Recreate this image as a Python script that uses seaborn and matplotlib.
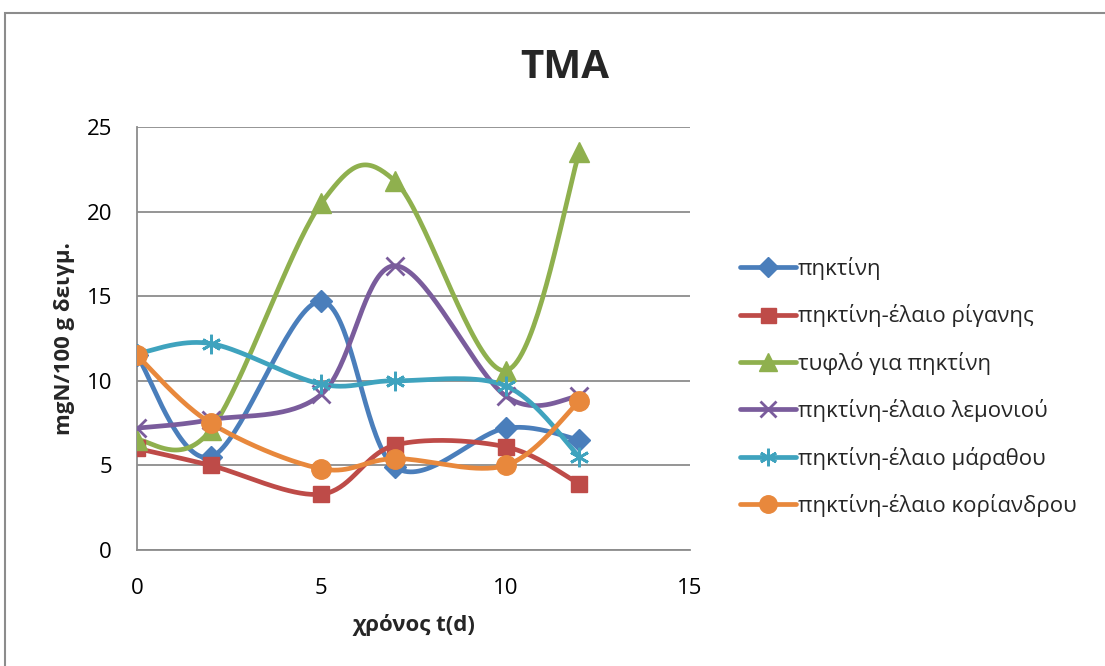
import numpy as np
import pandas as pd
import matplotlib
matplotlib.use("Agg")
import matplotlib.pyplot as plt
import seaborn as sns
from matplotlib.lines import Line2D
from matplotlib.patches import Rectangle

# ---- data ----
days = [0, 2, 5, 7, 10, 12]
series_names = ["πηκτίνη", "πηκτίνη-έλαιο ρίγανης", "τυφλό για πηκτίνη",
                "πηκτίνη-έλαιο λεμονιού", "πηκτίνη-έλαιο μάραθου",
                "πηκτίνη-έλαιο κορίανδρου"]
pektini = [11.5, 5.5, 14.7, 4.9, 7.2, 6.5]
rigani = [6.0, 5.0, 3.3, 6.2, 6.1, 3.9]
tyflo = [6.5, 7.1, 20.5, 21.8, 10.6, 23.5]
lemoni = [7.2, 7.7, 9.2, 16.8, 9.1, 9.1]
marathos = [11.6, 12.2, 9.8, 10.0, 9.7, 5.5]
koriandros = [11.5, 7.5, 4.8, 5.4, 5.0, 8.8]
values = [pektini, rigani, tyflo, lemoni, marathos, koriandros]

colors = ["#4A7EBB", "#BE4B48", "#8FB04E", "#7A5C9C", "#3FA3BE", "#E8883C"]
markers = ["D", "s", "^", "x", (6, 2, 0), "o"]
msizes = [11, 12, 14, 13, 14, 14]

x_ticks = [0, 5, 10, 15]
y_ticks = [0, 5, 10, 15, 20, 25]


def smooth(x, y, n=40):
    """Excel-like smoothed line (Catmull-Rom bezier) through the data points."""
    x = np.asarray(x, float); y = np.asarray(y, float)
    P = np.column_stack([x, y])
    out = []
    for i in range(len(P) - 1):
        p0 = P[i - 1] if i > 0 else P[i]
        p1 = P[i]; p2 = P[i + 1]
        p3 = P[i + 2] if i + 2 < len(P) else P[i + 1]
        c1 = p1 + (p2 - p0) / 6.0
        c2 = p2 - (p3 - p1) / 6.0
        t = np.linspace(0, 1, n)[:, None]
        seg = ((1 - t) ** 3) * p1 + 3 * ((1 - t) ** 2) * t * c1 + 3 * (1 - t) * t ** 2 * c2 + t ** 3 * p2
        out.append(seg if i == 0 else seg[1:])
    out = np.vstack(out)
    return out[:, 0], out[:, 1]


sns.set_theme(style="white")
plt.rcParams["font.family"] = ["Open Sans", "DejaVu Sans"]

fig = plt.figure(figsize=(11.05, 6.66), dpi=100)
ax = fig.add_axes([137 / 1105, 1 - 550 / 666, (690 - 137) / 1105, (550 - 127) / 666])

# outer chart border
fig.patches.append(Rectangle((5 / 1105, -0.05), 1.2, 1 - 13 / 666 + 0.05,
                             transform=fig.transFigure, fill=False,
                             edgecolor="#8C8C8C", linewidth=1.5))

handles = []
for name, vals, c, m, ms in zip(series_names, values, colors, markers, msizes):
    sx, sy = smooth(days, vals)
    sns.lineplot(x=sx, y=sy, ax=ax, color=c, linewidth=3.4, sort=False,
                 estimator=None, zorder=2)
    df = pd.DataFrame({"t": days, "v": vals})
    line_marker = m == "x" or isinstance(m, tuple)
    mew = 2.0 if line_marker else 1
    ax.plot(df["t"], df["v"], linestyle="none", marker=m, markersize=ms,
            color=c, markeredgecolor=c, markeredgewidth=mew, zorder=3)
    handles.append(Line2D([], [], color=c, linewidth=3.4, marker=m,
                          markersize=ms * 0.9, markeredgecolor=c,
                          markeredgewidth=mew, label=name))

ax.set_xlim(0, 15)
ax.set_ylim(0, 25)
ax.set_xticks(x_ticks)
ax.set_yticks(y_ticks)
ax.yaxis.grid(True, color="#8C8C8C", linewidth=1.3)
ax.xaxis.grid(False)
for s in ["top", "right"]:
    ax.spines[s].set_visible(False)
for s in ["left", "bottom"]:
    ax.spines[s].set_color("#8C8C8C")
    ax.spines[s].set_linewidth(1.3)
ax.tick_params(axis="both", which="major", direction="out", length=6, width=1.3,
               color="#8C8C8C", labelsize=16, labelcolor="black")
ax.tick_params(axis="y", pad=12)
ax.tick_params(axis="x", pad=14)

ax.set_xlabel("χρόνος t(d)", fontsize=16, fontweight="bold", labelpad=11)
ax.set_ylabel("mgN/100 g δειγμ.", fontsize=16, fontweight="bold", labelpad=8)

fig.text(565 / 1105, 1 - 67 / 666, "TMA", fontsize=29, fontweight="bold",
         ha="center", va="center")

leg = fig.legend(handles=handles, loc="center left",
                 bbox_to_anchor=(740 / 1105, 1 - 387 / 666), frameon=False,
                 fontsize=16, handlelength=2.5, handletextpad=0.1,
                 labelspacing=1.1, borderaxespad=0, borderpad=0)

fig.savefig("out.png", dpi=100, facecolor="white")
